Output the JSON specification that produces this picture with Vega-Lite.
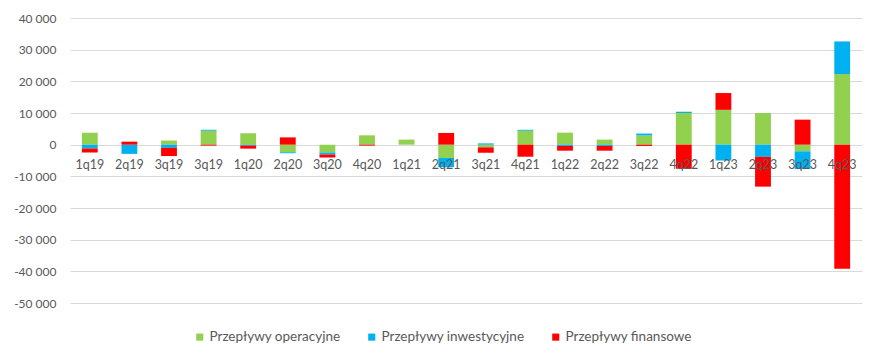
{
  "$schema": "https://vega.github.io/schema/vega-lite/v6.json",
  "width": 792,
  "height": 285,
  "autosize": "none",
  "padding": {"left": 70, "top": 18, "right": 20, "bottom": 58},
  "background": "white",
  "config": {"view": {"stroke": null}, "font": "Lato"},
  "data": {"values": [
    {"q": "1q19", "s": "Przepływy operacyjne", "o": 1, "v": 3800},
    {"q": "1q19", "s": "Przepływy inwestycyjne", "o": 2, "v": -1200},
    {"q": "1q19", "s": "Przepływy finansowe", "o": 3, "v": -1300},
    {"q": "2q19", "s": "Przepływy inwestycyjne", "o": 2, "v": -2900},
    {"q": "2q19", "s": "Przepływy finansowe", "o": 3, "v": 950},
    {"q": "3q19", "s": "Przepływy operacyjne", "o": 1, "v": 1300},
    {"q": "3q19", "s": "Przepływy inwestycyjne", "o": 2, "v": -1000},
    {"q": "3q19", "s": "Przepływy finansowe", "o": 3, "v": -2600},
    {"q": "4q19", "s": "Przepływy operacyjne", "o": 1, "v": 4400},
    {"q": "4q19", "s": "Przepływy inwestycyjne", "o": 2, "v": 300},
    {"q": "4q19", "s": "Przepływy finansowe", "o": 3, "v": -300},
    {"q": "1q20", "s": "Przepływy operacyjne", "o": 1, "v": 3600},
    {"q": "1q20", "s": "Przepływy inwestycyjne", "o": 2, "v": -300},
    {"q": "1q20", "s": "Przepływy finansowe", "o": 3, "v": -950},
    {"q": "2q20", "s": "Przepływy operacyjne", "o": 1, "v": -2400},
    {"q": "2q20", "s": "Przepływy inwestycyjne", "o": 2, "v": -300},
    {"q": "2q20", "s": "Przepływy finansowe", "o": 3, "v": 2300},
    {"q": "3q20", "s": "Przepływy operacyjne", "o": 1, "v": -2500},
    {"q": "3q20", "s": "Przepływy inwestycyjne", "o": 2, "v": -600},
    {"q": "3q20", "s": "Przepływy finansowe", "o": 3, "v": -950},
    {"q": "4q20", "s": "Przepływy operacyjne", "o": 1, "v": 2950},
    {"q": "4q20", "s": "Przepływy finansowe", "o": 3, "v": -300},
    {"q": "1q21", "s": "Przepływy operacyjne", "o": 1, "v": 1600},
    {"q": "2q21", "s": "Przepływy operacyjne", "o": 1, "v": -4200},
    {"q": "2q21", "s": "Przepływy inwestycyjne", "o": 2, "v": -2900},
    {"q": "2q21", "s": "Przepływy finansowe", "o": 3, "v": 3700},
    {"q": "3q21", "s": "Przepływy operacyjne", "o": 1, "v": -850},
    {"q": "3q21", "s": "Przepływy inwestycyjne", "o": 2, "v": 400},
    {"q": "3q21", "s": "Przepływy finansowe", "o": 3, "v": -1700},
    {"q": "4q21", "s": "Przepływy operacyjne", "o": 1, "v": 4400},
    {"q": "4q21", "s": "Przepływy inwestycyjne", "o": 2, "v": 300},
    {"q": "4q21", "s": "Przepływy finansowe", "o": 3, "v": -3800},
    {"q": "1q22", "s": "Przepływy operacyjne", "o": 1, "v": 3800},
    {"q": "1q22", "s": "Przepływy inwestycyjne", "o": 2, "v": -400},
    {"q": "1q22", "s": "Przepływy finansowe", "o": 3, "v": -1500},
    {"q": "2q22", "s": "Przepływy operacyjne", "o": 1, "v": 1600},
    {"q": "2q22", "s": "Przepływy inwestycyjne", "o": 2, "v": -400},
    {"q": "2q22", "s": "Przepływy finansowe", "o": 3, "v": -1500},
    {"q": "3q22", "s": "Przepływy operacyjne", "o": 1, "v": 2900},
    {"q": "3q22", "s": "Przepływy inwestycyjne", "o": 2, "v": 600},
    {"q": "3q22", "s": "Przepływy finansowe", "o": 3, "v": -400},
    {"q": "4q22", "s": "Przepływy operacyjne", "o": 1, "v": 10000},
    {"q": "4q22", "s": "Przepływy inwestycyjne", "o": 2, "v": 400},
    {"q": "4q22", "s": "Przepływy finansowe", "o": 3, "v": -7600},
    {"q": "1q23", "s": "Przepływy operacyjne", "o": 1, "v": 11000},
    {"q": "1q23", "s": "Przepływy inwestycyjne", "o": 2, "v": -5000},
    {"q": "1q23", "s": "Przepływy finansowe", "o": 3, "v": 5300},
    {"q": "2q23", "s": "Przepływy operacyjne", "o": 1, "v": 10000},
    {"q": "2q23", "s": "Przepływy inwestycyjne", "o": 2, "v": -3850},
    {"q": "2q23", "s": "Przepływy finansowe", "o": 3, "v": -9400},
    {"q": "3q23", "s": "Przepływy operacyjne", "o": 1, "v": -2100},
    {"q": "3q23", "s": "Przepływy inwestycyjne", "o": 2, "v": -5600},
    {"q": "3q23", "s": "Przepływy finansowe", "o": 3, "v": 7900},
    {"q": "4q23", "s": "Przepływy operacyjne", "o": 1, "v": 22300},
    {"q": "4q23", "s": "Przepływy inwestycyjne", "o": 2, "v": 10300},
    {"q": "4q23", "s": "Przepływy finansowe", "o": 3, "v": -39200}
  ]},
  "mark": {"type": "bar"},
  "encoding": {
    "x": {
      "field": "q", "type": "nominal", "sort": null,
      "scale": {"paddingInner": 0.6, "paddingOuter": 0.3},
      "axis": {"title": null, "orient": "bottom", "offset": -158, "domain": false, "ticks": false,
        "labelAngle": 0, "labelColor": "#595959", "labelFontSize": 12.5, "labelPadding": 13, "zindex": 1,
        "labelExpr": "datum.value == '4q19' ? '3q19' : datum.value"}
    },
    "y": {
      "field": "v", "type": "quantitative", "stack": "zero",
      "scale": {"domain": [-50000, 40000], "nice": false},
      "axis": {"title": null, "values": [-50000, -40000, -30000, -20000, -10000, 0, 10000, 20000, 30000, 40000],
        "grid": true, "gridColor": "#d9d9d9", "domain": false, "ticks": false,
        "labelColor": "#595959", "labelFontSize": 12, "labelPadding": 14,
        "labelExpr": "(datum.value < 0 ? '-' : '') + replace(format(abs(datum.value), ',d'), ',', ' ')"}
    },
    "color": {
      "field": "s", "type": "nominal",
      "scale": {"domain": ["Przepływy operacyjne", "Przepływy inwestycyjne", "Przepływy finansowe"],
        "range": ["#92D050", "#00B0F0", "#FF0000"]},
      "legend": {"title": null, "orient": "none", "direction": "horizontal", "legendX": 123, "legendY": 312,
        "symbolType": "square", "symbolSize": 50, "symbolStrokeWidth": 0, "labelFontSize": 13.5,
        "labelColor": "#595959", "columnPadding": 24, "labelOffset": 3}
    },
    "order": {"field": "o"}
  }
}
